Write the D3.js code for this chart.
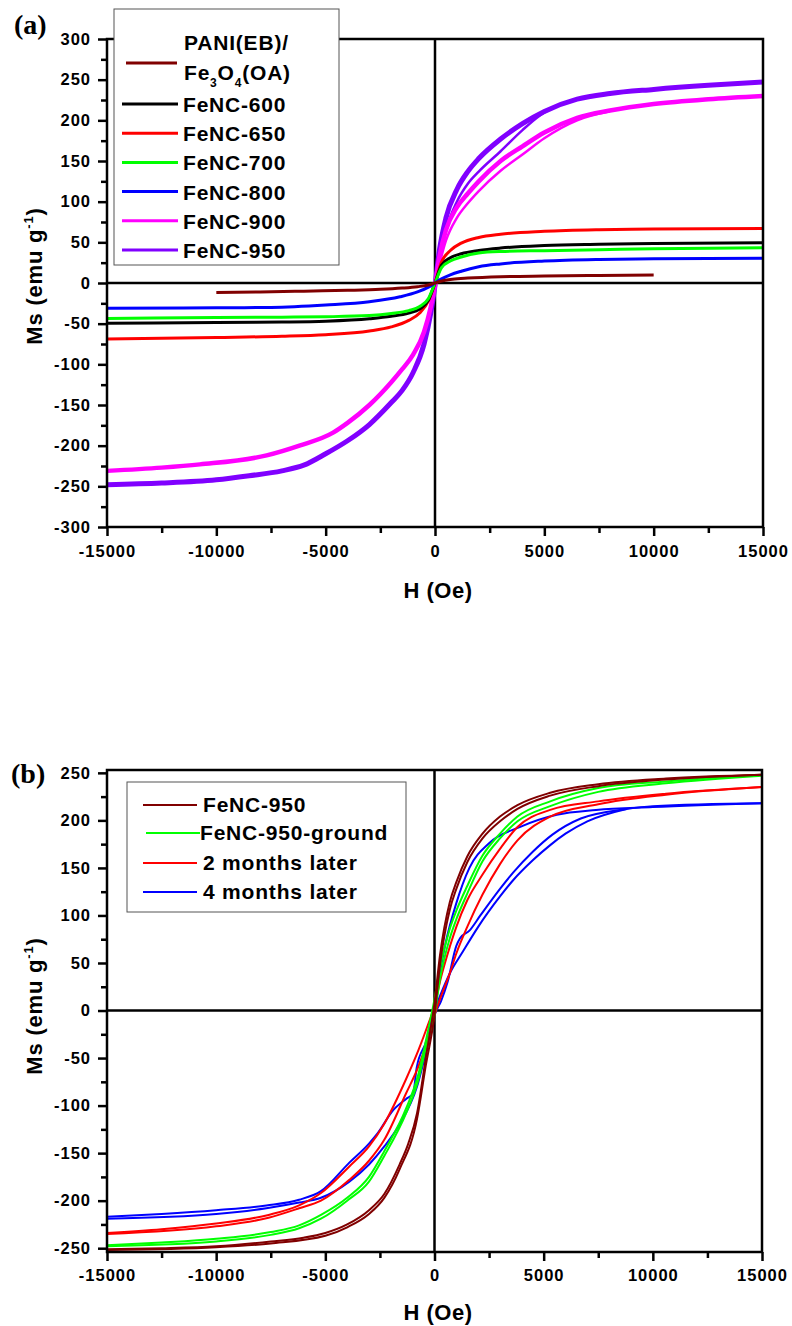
<!DOCTYPE html>
<meta charset="utf-8">
<title>FeNC magnetization</title>
<style>
  body { margin: 0; background: #fff; }
  text { font-family: "Liberation Sans", Arial, sans-serif; font-weight: bold; fill: #000; }
</style>
<body>
<div id="container"></div>
<script src="https://cdn.jsdelivr.net/npm/d3@7/dist/d3.min.js"></script>
<script>

// ---- panel (a) : [H (Oe), Ms (emu/g)] ----
const pani = [[-10000,-11.8],[-8000,-11],[-6000,-10],[-4000,-9],[-2500,-7.8],[-1500,-6.2],[-800,-4.5],[-300,-2.5],[0,0],[300,2.5],[800,4.5],[1500,6],[3000,7.8],[5000,8.6],[7500,9.2],[10000,9.8]];
const fenc600 = [[-15000,-49.5],[-10000,-48.5],[-7000,-48],[-5000,-47],[-3000,-44],[-2000,-41],[-1200,-37],[-700,-32],[-300,-21],[0,0],[300,22],[700,31],[1200,36],[2000,40],[3000,43],[5000,46],[7500,47.5],[10000,48.5],[15000,49.5]];
const fenc650 = [[-15000,-69],[-10000,-67],[-7000,-65.5],[-5000,-63.5],[-3000,-59],[-2000,-54],[-1200,-46],[-700,-37],[-300,-22],[0,0],[300,26],[700,40],[1200,49],[2000,56],[3000,60],[5000,63.5],[7500,65.5],[10000,66.3],[15000,67]];
const fenc700 = [[-15000,-43.5],[-10000,-42.5],[-7000,-42],[-5000,-41.5],[-3000,-40],[-2000,-37.5],[-1200,-34],[-700,-29],[-300,-19],[0,0],[300,19],[700,27],[1200,32],[2000,37],[3000,38.8],[5000,39.8],[7500,41],[10000,42],[15000,43.4]];
const fenc800 = [[-15000,-31],[-10000,-30.5],[-7500,-30],[-5000,-27],[-3000,-23],[-1600,-17],[-800,-11],[-300,-5],[0,0],[300,5],[700,10],[1200,14.5],[2000,20],[3000,23.5],[5000,27],[7500,29],[10000,29.8],[15000,30.3]];
const fenc900 = [[-15000,-231],[-12500,-227],[-10750,-223],[-7700,-212],[-6200,-200],[-4660,-184],[-4000,-172],[-3000,-150],[-2000,-122],[-1500,-106],[-1000,-88],[-500,-60],[-200,-30],[0,-3],[200,32],[500,65],[1000,93],[1500,110],[2000,125],[3000,150],[4000,168],[5000,185],[6500,203],[8000,212],[10000,220],[12500,226],[15000,230]];
const fenc900Virgin = [[0,0],[500,52],[1000,80],[1500,98],[2000,113],[3000,138],[4000,158],[5000,178],[6500,200],[8000,211]];
const fenc950 = [[-15000,-248],[-12500,-246],[-10000,-242],[-8500,-237],[-7000,-231],[-6000,-224],[-5000,-210],[-4000,-194],[-3000,-174],[-2000,-147],[-1500,-132],[-1000,-110],[-500,-75],[-200,-38],[0,-3],[200,40],[500,80],[1000,115],[1500,137],[2000,153],[3000,177],[4000,196],[5000,211],[6500,226],[8000,233],[10000,238],[12500,243],[15000,247]];
const fenc950Virgin = [[0,0],[500,65],[1000,100],[1500,122],[2000,137],[3000,162],[4000,188],[4800,206],[5500,217]];

// ---- panel (b) ----
const b950Down = [[-15000,-251],[-12500,-250],[-10000,-248],[-7500,-243],[-6000,-239],[-5000,-234],[-4000,-225],[-3000,-210],[-2300,-193],[-1600,-162],[-1200,-140],[-800,-108],[-400,-50],[0,8],[250,58],[700,114],[1000,135],[1500,162],[2200,186],[3000,204],[3800,216],[5300,229],[7500,238],[10600,244],[15000,248]];
const b950Up = [[-15000,-252],[-10000,-249],[-7500,-245],[-5000,-237],[-4000,-228],[-3000,-214],[-2300,-197],[-1600,-167],[-800,-114],[-400,-58],[0,-5],[250,48],[700,106],[1000,128],[1500,156],[2200,181],[3000,199],[3800,212],[5300,226],[7500,236],[10600,243],[15000,248]];
const groundDown = [[-15000,-247],[-12500,-244],[-10000,-240],[-7500,-233],[-6200,-226],[-5200,-215],[-4000,-197],[-3000,-175],[-2300,-148],[-1300,-103],[-740,-67],[-360,-28],[0,12],[250,45],[700,86],[1000,105],[1500,131],[2200,163],[3000,186],[3800,204],[5300,220],[7500,234],[10600,241],[15000,248]];
const groundUp = [[-15000,-248],[-10000,-243],[-7500,-236],[-6200,-229],[-5200,-219],[-4000,-200],[-3000,-180],[-2300,-153],[-1300,-108],[-740,-73],[-360,-36],[0,-5],[250,33],[700,76],[1000,96],[1500,123],[2200,157],[3000,181],[3800,199],[5300,215],[7500,230],[10600,239],[15000,247]];
const m2Down = [[-15000,-234],[-12500,-230],[-10000,-224],[-7600,-215],[-6200,-205],[-5200,-192],[-3900,-164],[-3000,-143],[-2300,-119],[-1300,-72],[-740,-42],[-300,-15],[0,5],[300,35],[700,67],[1000,88],[1500,116],[2200,143],[3000,170],[3800,193],[5300,211],[7500,220],[10600,228],[15000,235]];
const m2Up = [[-15000,-235],[-10000,-227],[-7600,-218],[-6200,-208],[-5200,-200],[-3900,-178],[-3000,-158],[-2300,-136],[-1300,-87],[-740,-59],[-300,-30],[0,-5],[300,15],[700,39],[1000,60],[1500,88],[2200,122],[3000,154],[3800,179],[5300,204],[7500,217],[10600,227],[15000,235]];
const m4Down = [[-15000,-217],[-12500,-214],[-10000,-210],[-7700,-205],[-6200,-199],[-5200,-190],[-3900,-160],[-3000,-140],[-2600,-129],[-1900,-105],[-1300,-93],[-975,-87],[-815,-60],[-360,-31],[0,5],[250,40],[500,70],[1000,113],[1600,150],[2500,176],[3900,193],[5600,206],[7400,211],[10000,214],[15000,218]];
const m4Up = [[-15000,-219],[-10000,-214],[-7700,-208],[-6200,-202],[-5200,-197],[-3900,-180],[-3000,-162],[-2300,-143],[-1600,-120],[-800,-80],[-300,-35],[0,-5],[300,10],[600,30],[1000,68],[1170,76],[1600,84],[2100,100],[3000,128],[3600,145],[4500,167],[5400,185],[6700,202],[8800,212],[10000,215],[15000,218]];
const m4Virgin = [[0,0],[300,18],[700,39],[1300,62],[2000,88],[3000,120],[3600,137],[4500,158],[5300,174],[6000,186],[7000,199],[8800,212]];

const hTicks = d3.range(-15000, 15001, 5000);
const hMinor = d3.range(-12500, 15000, 5000);
const msTicksA = d3.range(-300, 301, 50);
const msMinorA = d3.range(-275, 300, 50);
const msTicksB = d3.range(-250, 251, 50);
const msMinorB = d3.range(-225, 250, 50);

const legendA = ['FeNC-600', 'FeNC-650', 'FeNC-700', 'FeNC-800', 'FeNC-900', 'FeNC-950'];
const legendB = ['FeNC-950', 'FeNC-950-ground', '2 months later', '4 months later'];

const width = 792, height = 1326;

const svg = d3.select('#container').append('svg')
  .attr('width', width)
  .attr('height', height);

function panel(p) {
  const x = d3.scaleLinear().domain([-15000, 15000]).range([p.left, p.right]);
  const y = d3.scaleLinear().domain(p.yDomain).range([p.bottom, p.top]);
  const g = svg.append('g');

  const clipId = 'clip' + p.id;
  svg.append('clipPath').attr('id', clipId)
    .append('rect')
    .attr('x', p.left).attr('y', p.top)
    .attr('width', p.right - p.left).attr('height', p.bottom - p.top);

  // zero lines
  g.append('line')
    .attr('x1', x(0)).attr('x2', x(0)).attr('y1', p.top).attr('y2', p.bottom)
    .attr('stroke', '#000').attr('stroke-width', 2.5);
  g.append('line')
    .attr('x1', p.left).attr('x2', p.right).attr('y1', y(0)).attr('y2', y(0))
    .attr('stroke', '#000').attr('stroke-width', 2.5);

  const line = d3.line()
    .x(d => x(d[0]))
    .y(d => y(d[1]))
    .curve(d3.curveMonotoneX);

  const curves = g.append('g').attr('clip-path', `url(#${clipId})`);
  p.series.forEach(s => {
    curves.append('path')
      .attr('d', line(s.data))
      .attr('fill', 'none')
      .attr('stroke', s.color)
      .attr('stroke-width', s.w)
      .attr('stroke-linejoin', 'round');
  });

  // axes
  const fmt = d => String(d);
  g.append('g').attr('transform', `translate(${p.left},0)`)
    .call(d3.axisLeft(y).tickValues(p.yTicks).tickSize(9).tickPadding(7).tickFormat(fmt));
  g.append('g').attr('transform', `translate(${p.left},0)`)
    .call(d3.axisLeft(y).tickValues(p.yMinor).tickSize(6).tickFormat(''));
  g.append('g').attr('transform', `translate(0,${p.bottom})`)
    .call(d3.axisBottom(x).tickValues(hTicks).tickSize(9).tickPadding(p.xPad).tickFormat(fmt));
  g.append('g').attr('transform', `translate(0,${p.bottom})`)
    .call(d3.axisBottom(x).tickValues(hMinor).tickSize(6).tickFormat(''));

  g.selectAll('.domain').remove();
  g.selectAll('.tick line').attr('stroke-width', 2.5);
  g.selectAll('.tick text')
    .style('font-size', '16.5px')
    .style('letter-spacing', '1px')
    .style('font-family', '"Liberation Sans", Arial, sans-serif')
    .style('font-weight', 'bold');

  // frame
  g.append('rect')
    .attr('x', p.left).attr('y', p.top)
    .attr('width', p.right - p.left).attr('height', p.bottom - p.top)
    .attr('fill', 'none').attr('stroke', '#000').attr('stroke-width', 2.5);

  // titles
  g.append('text')
    .attr('x', 438).attr('y', p.xTitleY)
    .attr('text-anchor', 'middle')
    .style('font-size', '22px')
    .style('letter-spacing', '0.5px')
    .text('H (Oe)');

  const yt = g.append('text')
    .attr('transform', `translate(42,${p.yTitleY}) rotate(-90)`)
    .attr('text-anchor', 'middle')
    .style('font-size', '22px')
    .style('letter-spacing', '0.8px');
  yt.append('tspan').text('Ms (emu g');
  yt.append('tspan').attr('dy', -9).style('font-size', '13px').text('-1');
  yt.append('tspan').attr('dy', 9).text(')');

  g.append('text')
    .attr('x', p.labelX).attr('y', p.labelY)
    .style('font-family', '"Liberation Serif", "Times New Roman", serif')
    .style('font-size', '28px')
    .text(p.label);

  return { x, y, g };
}

// ----- panel a -----
const seriesA = [
  { data: fenc950, color: '#8000ff', w: 5 },
  { data: fenc950Virgin, color: '#8000ff', w: 2.5 },
  { data: fenc900, color: '#ff00ff', w: 4.5 },
  { data: fenc900Virgin, color: '#ff00ff', w: 2.5 },
  { data: fenc650, color: '#ff0000', w: 3 },
  { data: fenc600, color: '#000000', w: 3 },
  { data: fenc700, color: '#00ff00', w: 3 },
  { data: fenc800, color: '#0000ff', w: 3 },
  { data: pani, color: '#800000', w: 3 }
];

const pa = panel({
  id: 'a', left: 107, right: 763, top: 39, bottom: 527,
  yDomain: [-300, 300], yTicks: msTicksA, yMinor: msMinorA,
  xPad: 9, xTitleY: 598, yTitleY: 276,
  label: '(a)', labelX: 14, labelY: 34,
  series: seriesA
});

// legend a
const la = pa.g.append('g');
la.append('rect')
  .attr('x', 114).attr('y', 9).attr('width', 225).attr('height', 256)
  .attr('fill', '#fff').attr('stroke', '#555').attr('stroke-width', 1);
la.append('line').attr('x1', 126).attr('x2', 177).attr('y1', 63).attr('y2', 63)
  .attr('stroke', '#800000').attr('stroke-width', 3);
la.append('text').attr('x', 184).attr('y', 50)
  .style('font-size', '21px').style('letter-spacing', '0.8px').text('PANI(EB)/');
const fe = la.append('text').attr('x', 184).attr('y', 80)
  .style('font-size', '21px').style('letter-spacing', '0.8px');
fe.append('tspan').text('Fe');
fe.append('tspan').attr('dy', 7).style('font-size', '12px').text('3');
fe.append('tspan').attr('dy', -7).text('O');
fe.append('tspan').attr('dy', 7).style('font-size', '12px').text('4');
fe.append('tspan').attr('dy', -7).text('(OA)');

const colorsA = ['#000000', '#ff0000', '#00ff00', '#0000ff', '#ff00ff', '#8000ff'];
legendA.forEach((name, i) => {
  const ly = 104 + i * 29.2;
  la.append('line').attr('x1', 122).attr('x2', 178).attr('y1', ly).attr('y2', ly)
    .attr('stroke', colorsA[i]).attr('stroke-width', 3);
  la.append('text').attr('x', 183).attr('y', ly + 8)
    .style('font-size', '21px').style('letter-spacing', '0.8px').text(name);
});

// ----- panel b -----
const seriesB = [
  { data: m4Virgin, color: '#0000ff', w: 2 },
  { data: m4Up, color: '#0000ff', w: 2 },
  { data: m4Down, color: '#0000ff', w: 2 },
  { data: m2Up, color: '#ff0000', w: 2 },
  { data: m2Down, color: '#ff0000', w: 2 },
  { data: groundUp, color: '#00ff00', w: 2 },
  { data: groundDown, color: '#00ff00', w: 2 },
  { data: b950Up, color: '#800000', w: 2 },
  { data: b950Down, color: '#800000', w: 2 }
];

const pb = panel({
  id: 'b', left: 107, right: 762, top: 770, bottom: 1252,
  yDomain: [-254, 253], yTicks: msTicksB, yMinor: msMinorB,
  xPad: 8, xTitleY: 1320, yTitleY: 1006,
  label: '(b)', labelX: 11, labelY: 783,
  series: seriesB
});

const lb = pb.g.append('g');
lb.append('rect')
  .attr('x', 127).attr('y', 782).attr('width', 279).attr('height', 130)
  .attr('fill', '#fff').attr('stroke', '#555').attr('stroke-width', 1);
const colorsB = ['#800000', '#00ff00', '#ff0000', '#0000ff'];
const lineYB = [805, 833, 863, 892];
legendB.forEach((name, i) => {
  const dx = i === 1 ? 3 : 0;
  lb.append('line').attr('x1', 143 + dx).attr('x2', 197 + dx).attr('y1', lineYB[i]).attr('y2', lineYB[i])
    .attr('stroke', colorsB[i]).attr('stroke-width', 2);
  lb.append('text').attr('x', i === 1 ? 200 : 203).attr('y', lineYB[i] + 7)
    .style('font-size', '21px').style('letter-spacing', '0.8px').text(name);
});

</script>
</body>
